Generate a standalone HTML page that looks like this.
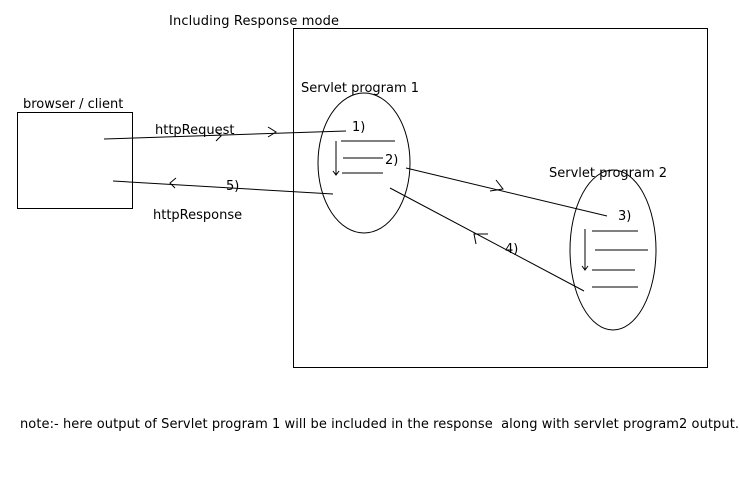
<!DOCTYPE html>
<html><head><style>body{margin:0;background:#fff}svg{display:block}text{font-family:"DejaVu Sans","Liberation Sans",sans-serif;font-size:13px;fill:#000}</style></head>
<body>
<svg width="740" height="480" viewBox="0 0 740 480" fill="none" stroke="#000" stroke-width="1">
<rect x="17.5" y="112.5" width="115" height="96"/>
<rect x="293.5" y="28.5" width="414" height="339"/>
<ellipse cx="364" cy="163" rx="46" ry="70"/>
<ellipse cx="613" cy="250" rx="43" ry="80"/>
<line x1="104" y1="139" x2="346" y2="131"/>
<polyline points="268,127 276,132 268,137"/>
<polyline points="217,132 221,136 216,141"/>
<line x1="113" y1="181" x2="333" y2="194"/>
<polyline points="176,178 170,183 175,188"/>
<line x1="341" y1="141" x2="395" y2="141"/>
<line x1="343" y1="158" x2="383" y2="158"/>
<line x1="342" y1="173" x2="383" y2="173"/>
<line x1="336" y1="141" x2="336" y2="175"/>
<polyline points="333,171 336,175 339,171"/>
<line x1="406" y1="168" x2="607" y2="216"/>
<polyline points="496,180 503,189 490,191"/>
<line x1="390" y1="188" x2="584" y2="291"/>
<polyline points="476,244 474,234 488,234"/>
<line x1="592" y1="231" x2="638" y2="231"/>
<line x1="595" y1="250" x2="648" y2="250"/>
<line x1="592" y1="270" x2="635" y2="270"/>
<line x1="592" y1="287" x2="638" y2="287"/>
<line x1="585" y1="229" x2="585" y2="270"/>
<polyline points="582,266 585,270 588,266"/>
<g stroke="none">
<text x="169" y="25" textLength="170" lengthAdjust="spacing">Including Response mode</text>
<text x="23" y="108">browser / client</text>
<text x="301" y="92">Servlet program 1</text>
<text x="549" y="177">Servlet program 2</text>
<text x="155" y="134">httpRequest</text>
<text x="153" y="219">httpResponse</text>
<text x="352" y="131">1)</text>
<text x="385" y="164">2)</text>
<text x="618" y="220">3)</text>
<text x="505" y="253">4)</text>
<text x="226" y="190">5)</text>
<text x="20" y="428" textLength="719" lengthAdjust="spacing" xml:space="preserve">note:- here output of Servlet program 1 will be included in the response  along with servlet program2 output.</text>
</g>
</svg>
</body></html>
